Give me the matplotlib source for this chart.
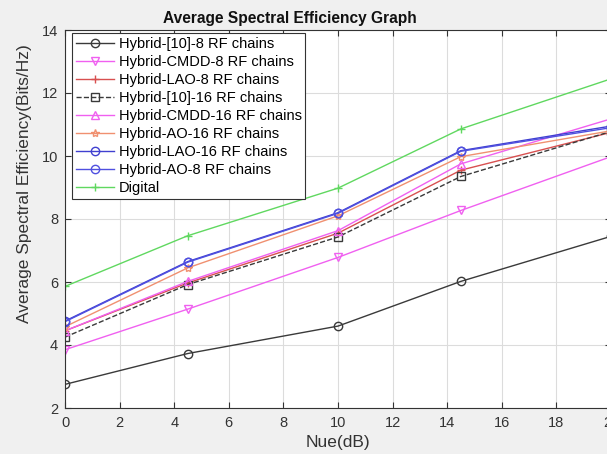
import matplotlib
matplotlib.use("Agg")
import matplotlib.pyplot as plt

plt.rcParams['font.family'] = ['Liberation Sans', 'DejaVu Sans']

nue_db = [0, 4.5, 10, 14.5, 20]

hybrid10_8 = [2.75, 3.73, 4.60, 6.02, 7.45]
cmdd_8 = [3.85, 5.14, 6.78, 8.27, 9.98]
lao_8 = [4.45, 5.97, 7.55, 9.55, 10.75]
hybrid10_16 = [4.25, 5.92, 7.43, 9.35, 10.78]
cmdd_16 = [4.45, 6.02, 7.63, 9.75, 11.18]
ao_16 = [4.58, 6.45, 8.10, 9.98, 10.80]
lao_16 = [4.76, 6.65, 8.20, 10.17, 10.95]
ao_8 = [4.74, 6.63, 8.18, 10.15, 10.90]
digital = [5.86, 7.47, 8.98, 10.86, 12.45]

labels = ["Hybrid-[10]-8 RF chains", "Hybrid-CMDD-8 RF chains", "Hybrid-LAO-8 RF chains",
          "Hybrid-[10]-16 RF chains", "Hybrid-CMDD-16 RF chains", "Hybrid-AO-16 RF chains",
          "Hybrid-LAO-16 RF chains", "Hybrid-AO-8 RF chains", "Digital"]

x_ticks = [0, 2, 4, 6, 8, 10, 12, 14, 16, 18, 20]
y_ticks = [2, 4, 6, 8, 10, 12, 14]

series = [hybrid10_8, cmdd_8, lao_8, hybrid10_16, cmdd_16, ao_16, lao_16, ao_8, digital]
styles = [
    dict(color='#3a3a3a', marker='o', ls='-'),
    dict(color='#f060f0', marker='v', ls='-'),
    dict(color='#d85050', marker='+', ls='-'),
    dict(color='#3a3a3a', marker='s', ls='--'),
    dict(color='#f060f0', marker='^', ls='-'),
    dict(color='#f09070', marker='*', ls='-'),
    dict(color='#4040d0', marker='o', ls='-'),
    dict(color='#5050e0', marker='o', ls='-'),
    dict(color='#60d860', marker='+', ls='-'),
]

fig = plt.figure(figsize=(6.07, 4.54), dpi=100, facecolor='#f0f0f0')
ax = fig.add_axes([65/607, 1-408/454, 546/607, 378/454])
ax.set_facecolor('white')

for ys, st, lab in zip(series, styles, labels):
    ax.plot(nue_db, ys, color=st['color'], marker=st['marker'], ls=st['ls'], lw=1.0,
            markersize=6, markerfacecolor='none', markeredgewidth=1.0, label=lab)

ax.set_xlim(0, 20)
ax.set_ylim(2, 14)
ax.set_xticks(x_ticks)
ax.set_yticks(y_ticks)
ax.tick_params(direction='in', top=True, right=True, labelsize=10.5, colors='#333333', length=4)
ax.tick_params(axis='x', pad=6)
ax.tick_params(axis='y', pad=5)
ax.grid(True, color='#dcdcdc', lw=0.8)
for s in ax.spines.values():
    s.set_color('#333333')
    s.set_linewidth(0.8)

fig.text(290/607, 1-18/454, "Average Spectral Efficiency Graph", ha='center', va='center',
         fontsize=11.2, fontweight='bold', color='#111111')
fig.text(338/607, 1-442/454, "Nue(dB)", ha='center', va='center', fontsize=12.5, color='#333333')
fig.text(25/607, 1-184/454, "Average Spectral Efficiency(Bits/Hz)", rotation=90,
         ha='center', va='center', fontsize=12.5, color='#333333')

leg = ax.legend(loc='upper left', bbox_to_anchor=((72-65)/546, (408-33)/378),
                borderaxespad=0, fontsize=10.5, handlelength=2.6, labelspacing=0.28,
                fancybox=False, framealpha=1, edgecolor='#333333', borderpad=0.25,
                handletextpad=0.35)
leg.get_frame().set_linewidth(0.8)

fig.savefig("out.png", dpi=100, facecolor=fig.get_facecolor())
